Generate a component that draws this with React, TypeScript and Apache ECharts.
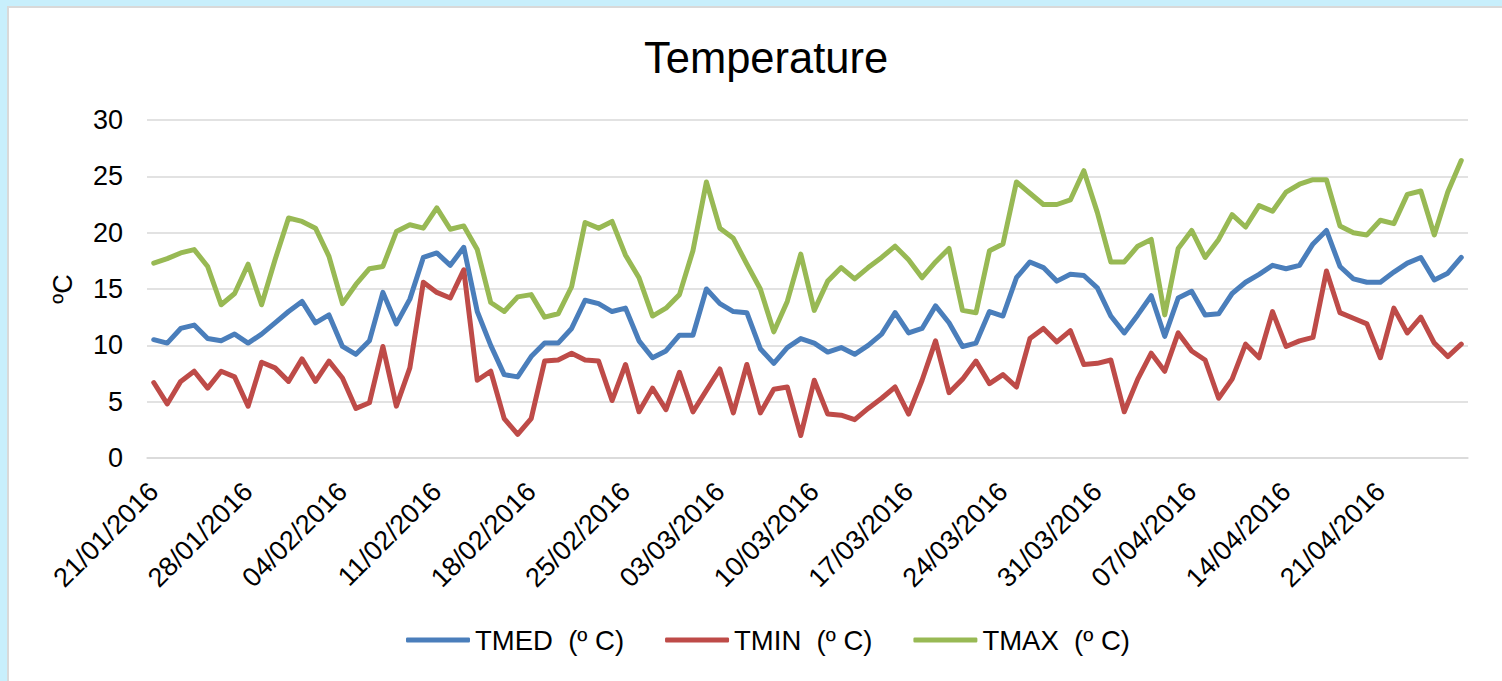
import React, { useEffect, useRef } from "react";
import * as echarts from "echarts";

const dates = [
  "21/01/2016","22/01/2016","23/01/2016","24/01/2016","25/01/2016","26/01/2016","27/01/2016",
  "28/01/2016","29/01/2016","30/01/2016","31/01/2016","01/02/2016","02/02/2016","03/02/2016",
  "04/02/2016","05/02/2016","06/02/2016","07/02/2016","08/02/2016","09/02/2016","10/02/2016",
  "11/02/2016","12/02/2016","13/02/2016","14/02/2016","15/02/2016","16/02/2016","17/02/2016",
  "18/02/2016","19/02/2016","20/02/2016","21/02/2016","22/02/2016","23/02/2016","24/02/2016",
  "25/02/2016","26/02/2016","27/02/2016","28/02/2016","29/02/2016","01/03/2016","02/03/2016",
  "03/03/2016","04/03/2016","05/03/2016","06/03/2016","07/03/2016","08/03/2016","09/03/2016",
  "10/03/2016","11/03/2016","12/03/2016","13/03/2016","14/03/2016","15/03/2016","16/03/2016",
  "17/03/2016","18/03/2016","19/03/2016","20/03/2016","21/03/2016","22/03/2016","23/03/2016",
  "24/03/2016","25/03/2016","26/03/2016","27/03/2016","28/03/2016","29/03/2016","30/03/2016",
  "31/03/2016","01/04/2016","02/04/2016","03/04/2016","04/04/2016","05/04/2016","06/04/2016",
  "07/04/2016","08/04/2016","09/04/2016","10/04/2016","11/04/2016","12/04/2016","13/04/2016",
  "14/04/2016","15/04/2016","16/04/2016","17/04/2016","18/04/2016","19/04/2016","20/04/2016",
  "21/04/2016","22/04/2016","23/04/2016","24/04/2016","25/04/2016","26/04/2016","27/04/2016"
];

const tmed = [
  10.5, 10.2, 11.5, 11.8, 10.6, 10.4, 11.0, 10.2, 11.0, 12.0, 13.0, 13.9, 12.0, 12.7,
  9.9, 9.2, 10.4, 14.7, 11.9, 14.1, 17.8, 18.2, 17.1, 18.7, 13.0, 10.0, 7.4, 7.2,
  9.0, 10.2, 10.2, 11.5, 14.0, 13.7, 13.0, 13.3, 10.4, 8.9, 9.5, 10.9, 10.9, 15.0,
  13.7, 13.0, 12.9, 9.7, 8.4, 9.8, 10.6, 10.2, 9.4, 9.8, 9.2, 10.0, 11.0, 12.9,
  11.1, 11.5, 13.5, 12.0, 9.9, 10.2, 13.0, 12.6, 16.0, 17.4, 16.9, 15.7, 16.3, 16.2,
  15.1, 12.6, 11.1, 12.7, 14.4, 10.8, 14.2, 14.8, 12.7, 12.8, 14.6, 15.6, 16.3, 17.1,
  16.8, 17.1, 19.0, 20.2, 17.0, 15.9, 15.6, 15.6, 16.5, 17.3, 17.8, 15.8, 16.4, 17.8
];

const tmin = [
  6.7, 4.8, 6.8, 7.7, 6.2, 7.7, 7.2, 4.6, 8.5, 8.0, 6.8, 8.8, 6.8, 8.6,
  7.1, 4.4, 4.9, 9.9, 4.6, 8.0, 15.6, 14.7, 14.2, 16.7, 6.9, 7.7, 3.5, 2.1,
  3.5, 8.6, 8.7, 9.3, 8.7, 8.6, 5.1, 8.3, 4.1, 6.2, 4.3, 7.6, 4.1, 6.0,
  7.9, 4.0, 8.3, 4.0, 6.1, 6.3, 2.0, 6.9, 3.9, 3.8, 3.4, 4.4, 5.3, 6.3,
  3.9, 6.9, 10.4, 5.8, 7.0, 8.6, 6.6, 7.4, 6.3, 10.6, 11.5, 10.3, 11.3, 8.3,
  8.4, 8.7, 4.1, 7.0, 9.3, 7.7, 11.1, 9.5, 8.7, 5.3, 7.0, 10.1, 8.9, 13.0,
  9.9, 10.4, 10.7, 16.6, 12.9, 12.4, 11.9, 8.9, 13.3, 11.1, 12.5, 10.2, 9.0, 10.1
];

const tmax = [
  17.3, 17.7, 18.2, 18.5, 17.0, 13.6, 14.6, 17.2, 13.6, 17.6, 21.3, 21.0, 20.4, 17.9,
  13.7, 15.4, 16.8, 17.0, 20.1, 20.7, 20.4, 22.2, 20.3, 20.6, 18.5, 13.8, 13.0, 14.3,
  14.5, 12.5, 12.8, 15.2, 20.9, 20.4, 21.0, 18.0, 16.0, 12.6, 13.3, 14.5, 18.4, 24.5,
  20.4, 19.5, 17.2, 15.0, 11.2, 13.9, 18.1, 13.1, 15.7, 16.9, 15.9, 16.9, 17.8, 18.8,
  17.6, 16.0, 17.4, 18.6, 13.1, 12.9, 18.4, 19.0, 24.5, 23.5, 22.5, 22.5, 22.9, 25.5,
  21.8, 17.4, 17.4, 18.8, 19.4, 12.7, 18.6, 20.2, 17.8, 19.4, 21.6, 20.5, 22.4, 21.9,
  23.6, 24.3, 24.7, 24.7, 20.6, 20.0, 19.8, 21.1, 20.8, 23.4, 23.7, 19.8, 23.6, 26.4
];

const seriesNames = ["TMED  (º C)", "TMIN  (º C)", "TMAX  (º C)"];
const seriesColors = ["#4A7EBB", "#BE4B48", "#98B954"];

const FONT = "'Liberation Sans', Arial, sans-serif";

export default function App() {
  const ref = useRef<HTMLDivElement>(null);

  useEffect(() => {
    document.body.style.margin = "0";
    const chart = echarts.init(ref.current as HTMLDivElement, null, { renderer: "svg" });
    const seriesData = [tmed, tmin, tmax];
    chart.setOption({
      animation: false,
      textStyle: { fontFamily: FONT },
      title: {
        text: "Temperature",
        left: 639,
        top: 31,
        textStyle: { fontSize: 43.5, fontWeight: "normal", color: "#000", fontFamily: FONT },
      },
      legend: {
        data: seriesNames,
        left: 406,
        top: 626,
        padding: 0,
        itemWidth: 64,
        itemHeight: 5,
        itemGap: 41,
        icon: "roundRect",
        textStyle: { fontSize: 27.5, color: "#000", fontFamily: FONT, padding: [0, 0, 0, 0] },
      },
      grid: { left: 147, right: 34, top: 120, bottom: 223, containLabel: false },
      xAxis: {
        type: "category",
        data: dates,
        boundaryGap: true,
        axisLine: { lineStyle: { color: "#d9d9d9", width: 1.5 } },
        axisTick: { interval: 6, length: 7, lineStyle: { color: "#d9d9d9", width: 1.5 } },
        axisLabel: { interval: 6, rotate: 45, margin: 29, fontSize: 27, color: "#000", fontFamily: FONT },
        splitLine: { show: false },
      },
      yAxis: {
        type: "value",
        min: 0,
        max: 30,
        interval: 5,
        name: "ºC",
        nameLocation: "middle",
        nameRotate: 90,
        nameGap: 71,
        nameTextStyle: { fontSize: 27, color: "#000", fontFamily: FONT },
        axisLine: { show: false },
        axisTick: { show: false },
        axisLabel: { fontSize: 27, margin: 24, color: "#000", fontFamily: FONT },
        splitLine: { lineStyle: { color: "#d9d9d9", width: 1.5 } },
      },
      series: seriesNames.map((name, k) => ({
        name,
        type: "line",
        data: seriesData[k],
        symbol: "none",
        smooth: false,
        color: seriesColors[k],
        lineStyle: { width: 5, color: seriesColors[k], cap: "round", join: "round" },
      })),
    });
    return () => chart.dispose();
  }, []);

  return (
    <div style={{ position: "fixed", left: 0, top: 0, width: 1502, height: 681, background: "#c8effc", overflow: "hidden" }}>
      <div
        style={{
          position: "absolute",
          left: 7,
          top: 6,
          width: 1500,
          height: 680,
          background: "#ffffff",
          borderLeft: "2px solid #d9d9d9",
          borderTop: "2px solid #d9d9d9",
        }}
      />
      <div ref={ref} style={{ position: "absolute", left: 0, top: 0, width: 1502, height: 681 }} />
    </div>
  );
}
